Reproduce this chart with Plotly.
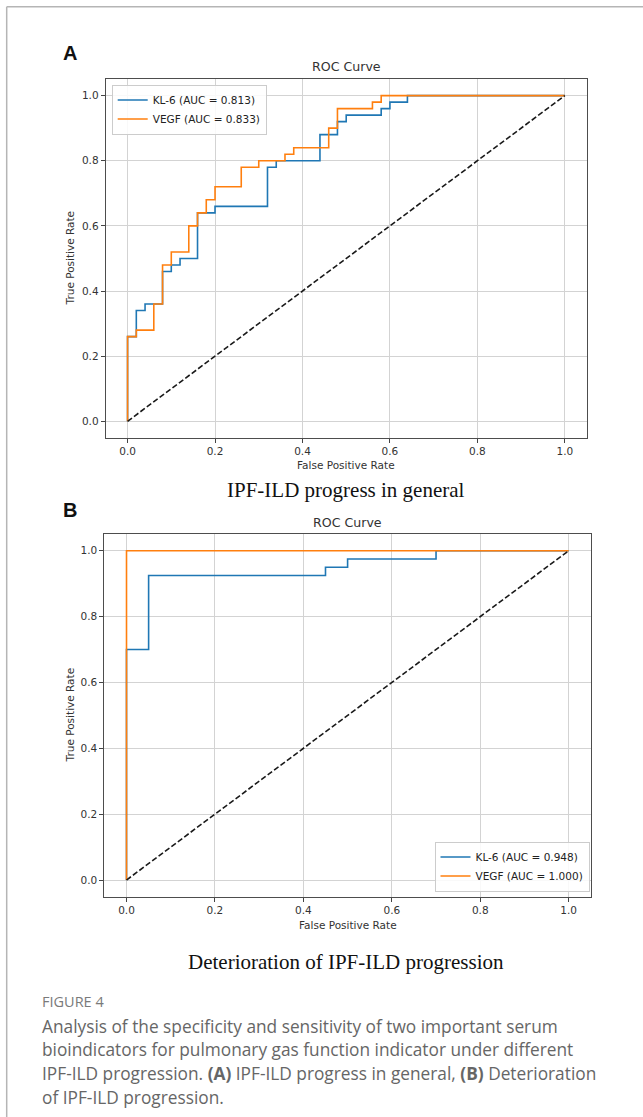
import plotly.graph_objects as go

W, H = 643, 1117

# ---------------- data ----------------
# Panel A: IPF-ILD progress in general
a_kl6_fpr = [0.00, 0.00, 0.02, 0.02, 0.04, 0.04, 0.08, 0.08, 0.10, 0.10, 0.12, 0.12,
             0.16, 0.16, 0.20, 0.20, 0.32, 0.32, 0.34, 0.34, 0.44, 0.44, 0.48, 0.48,
             0.50, 0.50, 0.58, 0.58, 0.60, 0.60, 0.64, 0.64, 1.00]
a_kl6_tpr = [0.00, 0.26, 0.26, 0.34, 0.34, 0.36, 0.36, 0.46, 0.46, 0.48, 0.48, 0.50,
             0.50, 0.64, 0.64, 0.66, 0.66, 0.78, 0.78, 0.80, 0.80, 0.88, 0.88, 0.92,
             0.92, 0.94, 0.94, 0.96, 0.96, 0.98, 0.98, 1.00, 1.00]
a_vegf_fpr = [0.00, 0.00, 0.02, 0.02, 0.06, 0.06, 0.08, 0.08, 0.10, 0.10, 0.14, 0.14,
              0.16, 0.16, 0.18, 0.18, 0.20, 0.20, 0.26, 0.26, 0.30, 0.30, 0.36, 0.36,
              0.38, 0.38, 0.46, 0.46, 0.48, 0.48, 0.56, 0.56, 0.58, 0.58, 1.00]
a_vegf_tpr = [0.00, 0.26, 0.26, 0.28, 0.28, 0.36, 0.36, 0.48, 0.48, 0.52, 0.52, 0.60,
              0.60, 0.64, 0.64, 0.68, 0.68, 0.72, 0.72, 0.78, 0.78, 0.80, 0.80, 0.82,
              0.82, 0.84, 0.84, 0.90, 0.90, 0.96, 0.96, 0.98, 0.98, 1.00, 1.00]

# Panel B: Deterioration of IPF-ILD progression
b_kl6_fpr = [0.00, 0.00, 0.05, 0.05, 0.45, 0.45, 0.50, 0.50, 0.70, 0.70, 1.00]
b_kl6_tpr = [0.00, 0.70, 0.70, 0.925, 0.925, 0.95, 0.95, 0.975, 0.975, 1.00, 1.00]
b_vegf_fpr = [0.00, 0.00, 1.00]
b_vegf_tpr = [0.00, 1.00, 1.00]

chance_x = [0.0, 1.0]
chance_y = [0.0, 1.0]

a_names = ["KL-6 (AUC = 0.813)", "VEGF (AUC = 0.833)"]
b_names = ["KL-6 (AUC = 0.948)", "VEGF (AUC = 1.000)"]

tick_vals = [0.0, 0.2, 0.4, 0.6, 0.8, 1.0]
tick_text = ["0.0", "0.2", "0.4", "0.6", "0.8", "1.0"]

caption_lines = [
    "Analysis of the specificity and sensitivity of two important serum",
    "bioindicators for pulmonary gas function indicator under different",
    "IPF-ILD progression. <b>(A)</b> IPF-ILD progress in general, <b>(B)</b> Deterioration",
    "of IPF-ILD progression.",
]

# ---------------- helpers ----------------
def px(x):
    return x / W


def py(y):
    return 1 - y / H


BLUE = "#1f77b4"
ORANGE = "#ff7f0e"
MPL = "DejaVu Sans"
TXT = "#333333"
DASH = dict(color="#1a1a1a", width=1.6, dash="5.5px,2.5px")

fig = go.Figure()

# Panel A traces
fig.add_trace(go.Scatter(x=a_kl6_fpr, y=a_kl6_tpr, mode="lines", name=a_names[0],
                         line=dict(color=BLUE, width=1.6), xaxis="x", yaxis="y",
                         legend="legend"))
fig.add_trace(go.Scatter(x=a_vegf_fpr, y=a_vegf_tpr, mode="lines", name=a_names[1],
                         line=dict(color=ORANGE, width=1.6), xaxis="x", yaxis="y",
                         legend="legend"))
fig.add_trace(go.Scatter(x=chance_x, y=chance_y, mode="lines", showlegend=False,
                         line=DASH, xaxis="x", yaxis="y"))

# Panel B traces
fig.add_trace(go.Scatter(x=b_kl6_fpr, y=b_kl6_tpr, mode="lines", name=b_names[0],
                         line=dict(color=BLUE, width=1.6), xaxis="x2", yaxis="y2",
                         legend="legend2"))
fig.add_trace(go.Scatter(x=b_vegf_fpr, y=b_vegf_tpr, mode="lines", name=b_names[1],
                         line=dict(color=ORANGE, width=1.6), xaxis="x2", yaxis="y2",
                         legend="legend2"))
fig.add_trace(go.Scatter(x=chance_x, y=chance_y, mode="lines", showlegend=False,
                         line=DASH, xaxis="x2", yaxis="y2"))

axis_common = dict(
    range=[-0.05, 1.05], tickvals=tick_vals, ticktext=tick_text,
    ticks="outside", ticklen=4, tickwidth=1, tickcolor="#444444",
    showgrid=True, gridcolor="#d3d3d3", gridwidth=1,
    showline=True, linecolor="#4d4d4d", linewidth=1, mirror=True,
    zeroline=False, tickfont=dict(family=MPL, size=10.5, color=TXT),
    fixedrange=True,
)

A_x = [105.7, 586.7]
A_y = [79.3, 437.6]
B_x = [104.4, 590.8]
B_y = [534.3, 896.5]

fig.update_layout(
    width=W, height=H, autosize=False,
    margin=dict(l=0, r=0, t=0, b=0),
    paper_bgcolor="white", plot_bgcolor="white",
    xaxis=dict(axis_common, domain=[px(A_x[0]), px(A_x[1])], anchor="y"),
    yaxis=dict(axis_common, domain=[py(A_y[1]), py(A_y[0])], anchor="x"),
    xaxis2=dict(axis_common, domain=[px(B_x[0]), px(B_x[1])], anchor="y2"),
    yaxis2=dict(axis_common, domain=[py(B_y[1]), py(B_y[0])], anchor="x2"),
    legend=dict(x=px(111.7), y=py(84.5), xanchor="left", yanchor="top",
                bgcolor="rgba(255,255,255,0.85)", bordercolor="#cccccc", borderwidth=1,
                font=dict(family=MPL, size=10.5, color="#222222"),
                itemwidth=30, tracegroupgap=0),
    legend2=dict(x=px(589.5), y=py(891.5), xanchor="right", yanchor="bottom",
                 bgcolor="rgba(255,255,255,0.85)", bordercolor="#cccccc", borderwidth=1,
                 font=dict(family=MPL, size=10.5, color="#222222"),
                 itemwidth=30, tracegroupgap=0),
    showlegend=True,
)

ann = []


def add_text(text, x, y, size, family, color, xanchor="center", angle=0):
    ann.append(dict(text=text, x=px(x), y=py(y), xref="paper", yref="paper",
                    xanchor=xanchor, yanchor="middle", showarrow=False,
                    textangle=angle, font=dict(family=family, size=size, color=color)))


# Panel A labels
add_text("<b>A</b>", 70, 52.5, 20, "Liberation Sans", "#111111")
add_text("ROC Curve", (A_x[0] + A_x[1]) / 2, 67, 12.6, MPL, TXT)
add_text("False Positive Rate", (A_x[0] + A_x[1]) / 2, 465, 10.5, MPL, TXT)
add_text("True Positive Rate", 70, (A_y[0] + A_y[1]) / 2, 10.5, MPL, TXT, angle=-90)
add_text("IPF-ILD progress in general", 345.6, 490, 21, "Liberation Serif", "#111111")

# Panel B labels
add_text("<b>B</b>", 70, 510, 20, "Liberation Sans", "#111111")
add_text("ROC Curve", (B_x[0] + B_x[1]) / 2, 522, 12.6, MPL, TXT)
add_text("False Positive Rate", (B_x[0] + B_x[1]) / 2, 925, 10.5, MPL, TXT)
add_text("True Positive Rate", 70, (B_y[0] + B_y[1]) / 2, 10.5, MPL, TXT, angle=-90)
add_text("Deterioration of IPF-ILD progression", 345.6, 962, 21, "Liberation Serif", "#111111")

# Figure caption
add_text("FIGURE 4", 40, 1001, 14.5, "Open Sans", "#7a7a7a", xanchor="left")
for i, line in enumerate(caption_lines):
    add_text(line, 40, 1026 + i * 23.7, 17.3, "Open Sans", "#666666", xanchor="left")

fig.update_layout(annotations=ann)

# outer page frame (top and left rules)
fig.update_layout(shapes=[
    dict(type="line", xref="paper", yref="paper", x0=px(6.7), x1=1.0, y0=py(6.7), y1=py(6.7),
         line=dict(color="#b5b5b5", width=1.5)),
    dict(type="line", xref="paper", yref="paper", x0=px(6.7), x1=px(6.7), y0=py(6.7), y1=0.0,
         line=dict(color="#b5b5b5", width=1.5)),
])

fig.write_html("out.html", config={"displayModeBar": False},
               post_script="document.body.style.margin='0';document.body.style.overflow='hidden';")
